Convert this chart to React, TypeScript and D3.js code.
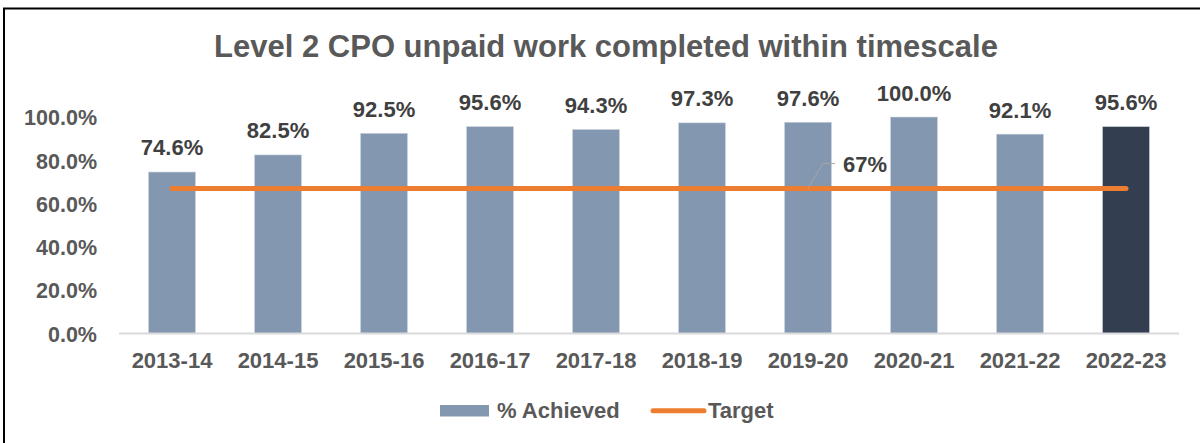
import { useEffect, useRef } from "react";
import * as d3 from "d3";

const years = ["2013-14", "2014-15", "2015-16", "2016-17", "2017-18", "2018-19", "2019-20", "2020-21", "2021-22", "2022-23"];
const achieved = [74.6, 82.5, 92.5, 95.6, 94.3, 97.3, 97.6, 100.0, 92.1, 95.6];
const target = [67, 67, 67, 67, 67, 67, 67, 67, 67, 67];
const yTicks = [0, 20, 40, 60, 80, 100];

export default function App() {
  const width = 1200;
  const height = 443;
  const marginLeft = 119;
  const marginRight = 21;
  const plotTop = 117;
  const plotBottom = 333.5;
  const font = "'Liberation Sans', Arial, sans-serif";

  const gx = useRef(null);
  const gy = useRef(null);

  const x = d3.scaleBand()
    .domain(years)
    .range([marginLeft, width - marginRight])
    .paddingInner(0.555)
    .paddingOuter(0.2775);

  const y = d3.scaleLinear()
    .domain([0, 100])
    .range([plotBottom, plotTop]);

  const cx = (d: string) => (x(d) as number) + x.bandwidth() / 2;

  const line = d3.line<number>()
    .x((_, i) => cx(years[i]))
    .y(d => y(d));

  useEffect(() => {
    const g = d3.select(gx.current);
    g.selectAll("*").remove();
    // @ts-ignore
    g.call(d3.axisBottom(x).tickSize(0).tickPadding(0))
      .call(g => g.select(".domain").attr("stroke", "#d9d9d9").attr("stroke-width", 2).attr("d", `M${marginLeft},0H${width - marginRight}`))
      .call(g => g.selectAll(".tick text")
        .attr("dy", null)
        .attr("y", 34.5)
        .attr("fill", "#595959")
        .attr("font-size", 22)
        .attr("font-weight", "bold")
        .attr("font-family", font));
  }, [x]);

  useEffect(() => {
    const g = d3.select(gy.current);
    g.selectAll("*").remove();
    // @ts-ignore
    g.call(d3.axisLeft(y).tickValues(yTicks).tickSize(0).tickPadding(0).tickFormat(d => `${(+d).toFixed(1)}%`))
      .call(g => g.select(".domain").remove())
      .call(g => g.selectAll(".tick text")
        .attr("dy", "0.36em")
        .attr("fill", "#595959")
        .attr("font-size", 21.5)
        .attr("font-weight", "bold")
        .attr("font-family", font));
  }, [y]);

  const labelIdx = 6;

  return (
    <div style={{ position: "absolute", left: 0, top: 0 }}>
      <svg width={width} height={height} style={{ display: "block", background: "#fff" }}>
        <line x1={3} x2={width} y1={8.5} y2={8.5} stroke="#000" strokeWidth={2} />
        <line x1={4} x2={4} y1={8} y2={height} stroke="#000" strokeWidth={2} />

        <text x={606} y={57} textAnchor="middle" fill="#595959" fontSize={31} fontWeight="bold" fontFamily={font}>
          Level 2 CPO unpaid work completed within timescale
        </text>

        <g ref={gy} transform={`translate(97,0)`} />

        {achieved.map((v, i) => (
          <rect key={years[i]}
            x={x(years[i])}
            y={y(v)}
            width={x.bandwidth()}
            height={y(0) - y(v)}
            fill={i === years.length - 1 ? "#333f50" : "#8497b0"}
            stroke="#d6dce5"
            strokeWidth={0.6} />
        ))}

        <g ref={gx} transform={`translate(0,${plotBottom})`} />

        <path d={line(target) ?? ""} fill="none" stroke="#ed7d31" strokeWidth={5} strokeLinecap="round" />

        {achieved.map((v, i) => (
          <text key={"l" + years[i]} x={cx(years[i])} y={y(v) - 16.5} textAnchor="middle"
            fill="#404040" fontSize={22} fontWeight="bold" fontFamily={font}>
            {v.toFixed(1)}%
          </text>
        ))}

        <path
          d={`M${cx(years[labelIdx])},${y(target[labelIdx])}L${cx(years[labelIdx]) + 15},${y(target[labelIdx]) - 25}H${cx(years[labelIdx]) + 27}`}
          fill="none" stroke="#a6a6a6" strokeWidth={1} />
        <text x={cx(years[labelIdx]) + 35} y={y(target[labelIdx]) - 16} fill="#404040" fontSize={22} fontWeight="bold" fontFamily={font}>
          {target[labelIdx]}%
        </text>

        <g transform="translate(440,405)">
          <rect x={0} y={0} width={49} height={11.5} fill="#8497b0" />
          <text x={57} y={12.5} fill="#595959" fontSize={22} fontWeight="bold" fontFamily={font}>% Achieved</text>
          <line x1={213} x2={264} y1={5.8} y2={5.8} stroke="#ed7d31" strokeWidth={5} strokeLinecap="round" />
          <text x={268} y={12.5} fill="#595959" fontSize={22} fontWeight="bold" fontFamily={font}>Target</text>
        </g>
      </svg>
    </div>
  );
}
